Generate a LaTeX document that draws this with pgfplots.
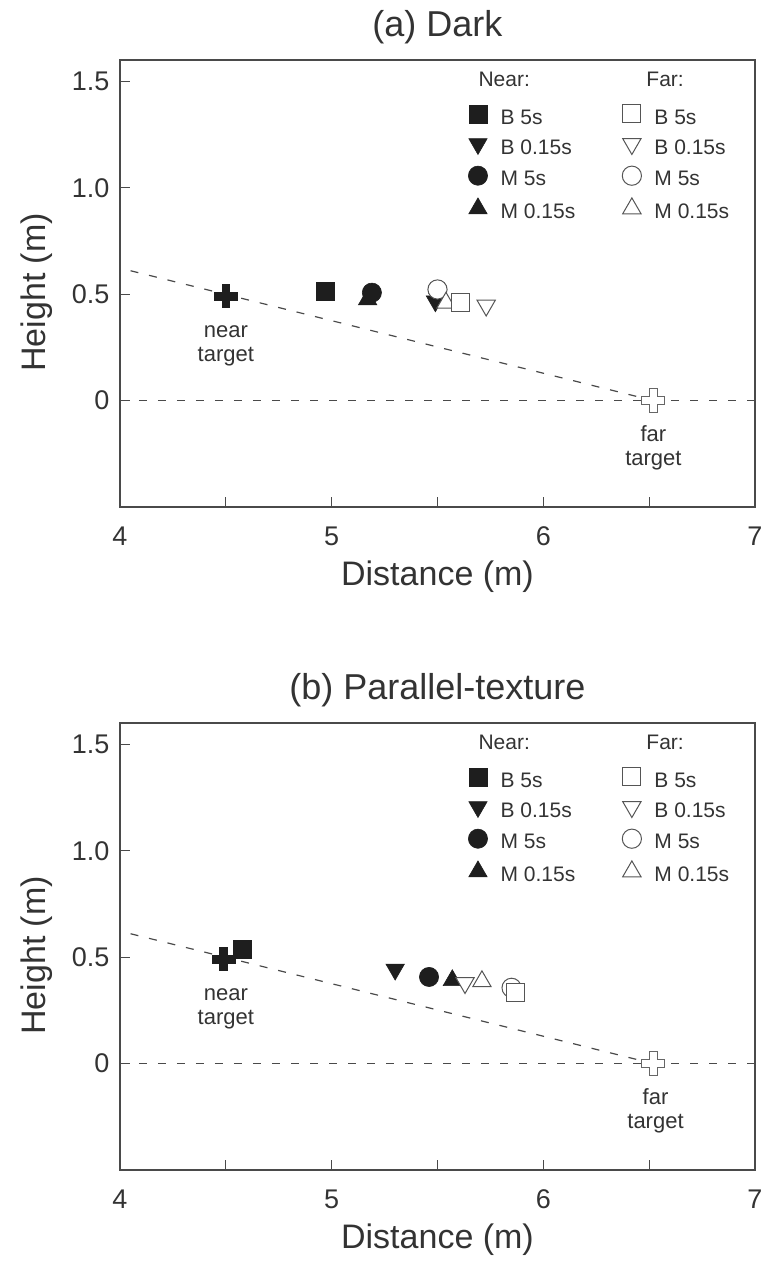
\documentclass[border=0pt]{standalone}
\usepackage{fontspec}
\setmainfont{Liberation Sans}
\usepackage{pgfplots}
\pgfplotsset{compat=1.18}

\definecolor{txt}{HTML}{333333}
\definecolor{axc}{HTML}{4A4A4A}
\definecolor{nearc}{HTML}{1E1E1E}
\definecolor{farc}{HTML}{555555}

% plus-shaped target mark
\pgfdeclareplotmark{tcross}{%
  \pgfpathmoveto{\pgfpoint{-0.33\pgfplotmarksize}{\pgfplotmarksize}}%
  \pgfpathlineto{\pgfpoint{0.33\pgfplotmarksize}{\pgfplotmarksize}}%
  \pgfpathlineto{\pgfpoint{0.33\pgfplotmarksize}{0.33\pgfplotmarksize}}%
  \pgfpathlineto{\pgfpoint{\pgfplotmarksize}{0.33\pgfplotmarksize}}%
  \pgfpathlineto{\pgfpoint{\pgfplotmarksize}{-0.33\pgfplotmarksize}}%
  \pgfpathlineto{\pgfpoint{0.33\pgfplotmarksize}{-0.33\pgfplotmarksize}}%
  \pgfpathlineto{\pgfpoint{0.33\pgfplotmarksize}{-\pgfplotmarksize}}%
  \pgfpathlineto{\pgfpoint{-0.33\pgfplotmarksize}{-\pgfplotmarksize}}%
  \pgfpathlineto{\pgfpoint{-0.33\pgfplotmarksize}{-0.33\pgfplotmarksize}}%
  \pgfpathlineto{\pgfpoint{-\pgfplotmarksize}{-0.33\pgfplotmarksize}}%
  \pgfpathlineto{\pgfpoint{-\pgfplotmarksize}{0.33\pgfplotmarksize}}%
  \pgfpathlineto{\pgfpoint{-0.33\pgfplotmarksize}{0.33\pgfplotmarksize}}%
  \pgfpathclose
  \pgfusepathqfillstroke}

\pgfplotsset{
  panel/.style={
    scale only axis, width=317.5pt, height=223.5pt,
    xmin=4, xmax=7, ymin=-0.5, ymax=1.6,
    xtick={4,4.5,...,7}, xticklabels={4,,5,,6,,7},
    ytick={0,0.5,1,1.5}, yticklabels={0,0.5,1.0,1.5},
    xtick pos=lower, ytick pos=left,
    tick align=inside, major tick length=5pt,
    axis line style={axc, line width=1pt},
    every tick/.style={axc, line width=0.5pt},
    /pgf/number format/assume math mode=true,
    tick label style={font=\fontsize{13.5}{15}\selectfont, text=txt},
    yticklabel style={xshift=-1.8pt},
    xticklabel style={yshift=-6.3pt},
    label style={font=\fontsize{17}{20}\selectfont, text=txt},
    xlabel={Distance (m)},
    ylabel={Height (m)},
    xlabel style={at={(rel axis cs:0.5,0)}, anchor=base, yshift=-39pt},
    ylabel style={at={(rel axis cs:-0.117,0.48)}, anchor=base},
    title style={font=\fontsize{18}{20}\selectfont, text=txt,
      at={(rel axis cs:0.5,1)}, anchor=base, yshift=6pt},
    clip=false,
    legend columns=2,
    legend cell align=left,
    legend image code/.code={\draw[#1] plot coordinates {(0pt,3.6pt)};},
    legend style={draw=none, fill=none, inner sep=0pt,
      at={(rel axis cs:0.548,0.981)}, anchor=north west,
      font=\fontsize{10.5}{12}\selectfont, text=txt,
      column sep=0pt, row sep=0pt,
      nodes={inner sep=0pt, text height=9pt, text depth=6pt},
      /tikz/row 1/.style={nodes={text depth=9pt}},
      /tikz/every odd column/.append style={column sep=6.5pt},
      /tikz/every even column/.append style={column sep=23.5pt}},
  },
  nearm/.style={only marks, mark options={fill=nearc, draw=nearc, line width=0.3pt}},
  farm/.style={only marks, mark options={fill=white, draw=farc, line width=0.5pt}},
  sq/.style={mark=square*, mark size=4.5pt},
  ci/.style={mark=*, mark size=4.8pt},
  tu/.style={mark=triangle*, mark size=5.3pt},
  td/.style={mark=triangle*, mark size=5.3pt, every mark/.append style={rotate=180}},
  guide/.style={axc, line width=0.6pt, dash pattern=on 4pt off 5.5pt},
}

\newcommand{\legendblock}{%
  \addlegendimage{empty legend}\addlegendentry{\hspace*{-11pt}Near:}
  \addlegendimage{empty legend}\addlegendentry{\hspace*{-4pt}Far:}
  \addlegendimage{nearm, sq}\addlegendentry{B 5s}
  \addlegendimage{farm, sq}\addlegendentry{B 5s}
  \addlegendimage{nearm, td}\addlegendentry{B 0.15s}
  \addlegendimage{farm, td}\addlegendentry{B 0.15s}
  \addlegendimage{nearm, ci}\addlegendentry{M 5s}
  \addlegendimage{farm, ci}\addlegendentry{M 5s}
  \addlegendimage{nearm, tu}\addlegendentry{M 0.15s}
  \addlegendimage{farm, tu}\addlegendentry{M 0.15s}
}

\begin{document}
\begin{tikzpicture}
\useasboundingbox (-60pt,30pt) rectangle (320.5pt,-604.5pt);

% ---------------- (a) Dark ----------------
\begin{axis}[panel, at={(0,0)}, anchor=north west, title={(a) Dark}]
\legendblock
% guide lines
\addplot[guide, forget plot] coordinates {(4,0) (7,0)};
\addplot[guide, forget plot] coordinates {(4.05,0.61) (6.52,0)};
% targets
\addplot[only marks, mark=tcross, mark size=5.8pt, mark options={fill=white, draw=gray!80!black, line width=0.5pt}, forget plot] coordinates {(6.52,0)};
\addplot[only marks, mark=tcross, mark size=5.8pt, mark options={fill=nearc, draw=nearc}, forget plot] coordinates {(4.5,0.49)};
% near
\addplot[nearm, sq, forget plot] coordinates {(4.97,0.514)};
\addplot[nearm, ci, forget plot] coordinates {(5.19,0.507)};
\addplot[nearm, tu, forget plot] coordinates {(5.17,0.475)};
\addplot[nearm, td, forget plot] coordinates {(5.49,0.467)};
% far
\addplot[farm, ci, forget plot] coordinates {(5.50,0.522)};
\addplot[farm, tu, forget plot] coordinates {(5.54,0.459)};
\addplot[farm, sq, forget plot] coordinates {(5.61,0.462)};
\addplot[farm, td, forget plot] coordinates {(5.73,0.447)};
\node[align=center, font=\fontsize{11}{12}\selectfont, text=txt] at (axis cs:4.5,0.258) {near\\target};
\node[align=center, font=\fontsize{11}{12}\selectfont, text=txt] at (axis cs:6.52,-0.223) {far\\target};
\end{axis}

% ---------------- (b) Parallel-texture ----------------
\begin{axis}[panel, at={(0,-331.5pt)}, anchor=north west, title={(b) Parallel-texture}]
\legendblock
\addplot[guide, forget plot] coordinates {(4,0) (7,0)};
\addplot[guide, forget plot] coordinates {(4.05,0.61) (6.52,0)};
\addplot[only marks, mark=tcross, mark size=5.8pt, mark options={fill=white, draw=gray!80!black, line width=0.5pt}, forget plot] coordinates {(6.52,0)};
\addplot[only marks, mark=tcross, mark size=5.8pt, mark options={fill=nearc, draw=nearc}, forget plot] coordinates {(4.49,0.49)};
% near
\addplot[nearm, sq, forget plot] coordinates {(4.58,0.536)};
\addplot[nearm, td, forget plot] coordinates {(5.30,0.442)};
\addplot[nearm, ci, forget plot] coordinates {(5.46,0.407)};
\addplot[nearm, tu, forget plot] coordinates {(5.57,0.391)};
% far
\addplot[farm, td, forget plot] coordinates {(5.63,0.379)};
\addplot[farm, tu, forget plot] coordinates {(5.71,0.386)};
\addplot[farm, ci, forget plot] coordinates {(5.85,0.356)};
\addplot[farm, sq, forget plot] coordinates {(5.87,0.335)};
\node[align=center, font=\fontsize{11}{12}\selectfont, text=txt] at (axis cs:4.5,0.255) {near\\target};
\node[align=center, font=\fontsize{11}{12}\selectfont, text=txt] at (axis cs:6.53,-0.223) {far\\target};
\end{axis}
\end{tikzpicture}
\end{document}
